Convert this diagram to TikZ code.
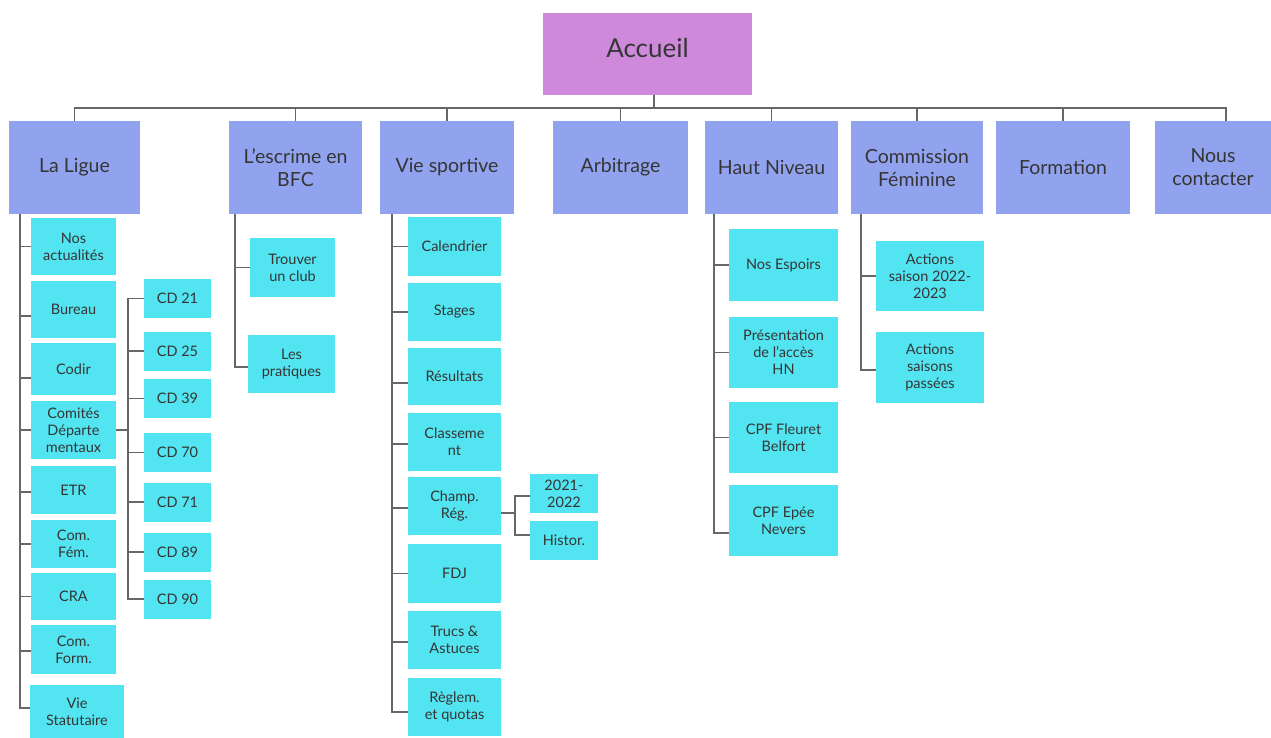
\documentclass[tikz,border=0pt]{standalone}
\usepackage{fontspec}
\setmainfont{Lato}
\definecolor{accc}{HTML}{CE89DB}
\definecolor{lvonec}{HTML}{91A3EE}
\definecolor{lvtwoc}{HTML}{52E4F0}
\definecolor{txt}{HTML}{353535}
\definecolor{linec}{HTML}{676767}
\tikzset{
 conn/.style={draw=linec, line width=1.5pt},
 topbox/.style={fill=accc, text=txt, font=\fontsize{26}{30}\selectfont, inner sep=0pt},
 lvone/.style={fill=lvonec, text=txt, align=center, font=\fontsize{19.5}{23}\selectfont, inner sep=0pt},
 lvtwo/.style={fill=lvtwoc, text=txt, align=center, font=\fontsize{14.5}{17}\selectfont, inner sep=0pt},
}
\begin{document}
\begin{tikzpicture}[x=1pt,y=-1pt]
\useasboundingbox (0,0) rectangle (1271,738);
% top
\node[topbox, minimum width=209pt, minimum height=82pt] (acc) at (647.5,54) {\raisebox{12pt}{Accueil}};
% level 1
\node[lvone, minimum width=131pt, minimum height=93pt] (ligue) at (74.5,167.5) {La Ligue};
\node[lvone, minimum width=133pt, minimum height=93pt] (bfc) at (295.5,167.5) {L’escrime en\\BFC};
\node[lvone, minimum width=134pt, minimum height=93pt] (vie) at (447,167.5) {Vie sportive};
\node[lvone, minimum width=135pt, minimum height=93pt] (arb) at (620.5,167.5) {Arbitrage};
\node[lvone, minimum width=133pt, minimum height=93pt] (hn) at (771.5,167.5) {Haut Niveau};
\node[lvone, minimum width=132pt, minimum height=93pt] (cf) at (917,167.5) {Commission\\Féminine};
\node[lvone, minimum width=134pt, minimum height=93pt] (form) at (1063,167.5) {Formation};
\node[lvone, minimum width=116pt, minimum height=93pt] (nous) at (1213,167.5) {Nous\\contacter};
\foreach \n in {ligue,bfc,vie,arb,hn,cf,form}
  \draw[conn] ([xshift=6.5pt]acc.south) -- ++(0,13) -| (\n.north);
\draw[conn] ([xshift=6.5pt]acc.south) -- ++(0,13) -| ([xshift=13pt]nous.north);
% La Ligue children
\node[lvtwo, minimum width=85pt, minimum height=57pt] (nosact) at (73.5,246.5) {Nos\\actualités};
\node[lvtwo, minimum width=85pt, minimum height=57pt] (bureau) at (73.5,309.5) {Bureau};
\node[lvtwo, minimum width=85pt, minimum height=52pt] (codir) at (73.5,369) {Codir};
\node[lvtwo, minimum width=85pt, minimum height=58pt] (comites) at (73.5,430) {Comités\\Départe\\mentaux};
\node[lvtwo, minimum width=85pt, minimum height=48pt] (etr) at (73.5,490) {ETR};
\node[lvtwo, minimum width=85pt, minimum height=48pt] (comfem) at (73.5,544) {Com.\\Fém.};
\node[lvtwo, minimum width=85pt, minimum height=47pt] (cra) at (73.5,596.5) {CRA};
\node[lvtwo, minimum width=85pt, minimum height=49pt] (comform) at (73.5,649.5) {Com.\\Form.};
\node[lvtwo, minimum width=94pt, minimum height=53pt] (viestat) at (77,711.5) {Vie\\Statutaire};
\draw[conn] ([xshift=11pt]ligue.south west) |- (nosact.west);
\draw[conn] ([xshift=11pt]ligue.south west) |- ([yshift=-6.5pt]bureau.west);
\draw[conn] ([xshift=11pt]ligue.south west) |- ([yshift=-9pt]codir.west);
\draw[conn] ([xshift=11pt]ligue.south west) |- (comites.west);
\draw[conn] ([xshift=11pt]ligue.south west) |- ([yshift=-2pt]etr.west);
\draw[conn] ([xshift=11pt]ligue.south west) |- (comfem.west);
\draw[conn] ([xshift=11pt]ligue.south west) |- (cra.west);
\draw[conn] ([xshift=11pt]ligue.south west) |- ([yshift=-1.5pt]comform.west);
\draw[conn] ([xshift=11pt]ligue.south west) |- ([yshift=3.5pt]viestat.west);
% CD
\node[lvtwo, minimum width=67pt, minimum height=39pt] (cdA) at (177.5,298.5) {CD 21};
\node[lvtwo, minimum width=67pt, minimum height=39pt] (cdB) at (177.5,351) {CD 25};
\node[lvtwo, minimum width=67pt, minimum height=39pt] (cdC) at (177.5,398.5) {CD 39};
\node[lvtwo, minimum width=67pt, minimum height=39pt] (cdD) at (177.5,452.5) {CD 70};
\node[lvtwo, minimum width=67pt, minimum height=39pt] (cdE) at (177.5,502) {CD 71};
\node[lvtwo, minimum width=67pt, minimum height=39pt] (cdF) at (177.5,552) {CD 89};
\node[lvtwo, minimum width=67pt, minimum height=39pt] (cdG) at (177.5,599) {CD 90};
\foreach \n in {cdA,cdB,cdC,cdD,cdE,cdF,cdG}
  \draw[conn] (comites.east) -- ++(12,0) |- (\n.west);
% BFC
\node[lvtwo, minimum width=85pt, minimum height=59pt] (trouver) at (292.5,267.5) {Trouver\\un club};
\node[lvtwo, minimum width=87pt, minimum height=58pt] (prat) at (291.5,364) {Les\\pratiques};
\draw[conn] ([xshift=6pt]bfc.south west) |- (trouver.west);
\draw[conn] ([xshift=6pt]bfc.south west) |- ([yshift=-3pt]prat.west);
% Vie sportive
\node[lvtwo, minimum width=93pt, minimum height=59pt] (cal) at (454.5,246.5) {Calendrier};
\node[lvtwo, minimum width=93pt, minimum height=58pt] (stages) at (454.5,312) {Stages};
\node[lvtwo, minimum width=93pt, minimum height=57pt] (res) at (454.5,376.5) {Résultats};
\node[lvtwo, minimum width=93pt, minimum height=58pt] (classt) at (454.5,442) {Classeme\\nt};
\node[lvtwo, minimum width=93pt, minimum height=58pt] (champ) at (454.5,506) {Champ.\\Rég.};
\node[lvtwo, minimum width=93pt, minimum height=59pt] (fdj) at (454.5,573.5) {FDJ};
\node[lvtwo, minimum width=93pt, minimum height=58pt] (trucs) at (454.5,640) {Trucs \&\\Astuces};
\node[lvtwo, minimum width=93pt, minimum height=58pt] (reglem) at (454.5,707) {Règlem.\\et quotas};
\draw[conn] ([xshift=12pt]vie.south west) |- (cal.west);
\draw[conn] ([xshift=12pt]vie.south west) |- (stages.west);
\draw[conn] ([xshift=12pt]vie.south west) |- ([yshift=-6.5pt]res.west);
\draw[conn] ([xshift=12pt]vie.south west) |- ([yshift=-2pt]classt.west);
\draw[conn] ([xshift=12pt]vie.south west) |- ([yshift=-2pt]champ.west);
\draw[conn] ([xshift=12pt]vie.south west) |- (fdj.west);
\draw[conn] ([xshift=12pt]vie.south west) |- ([yshift=-2pt]trucs.west);
\draw[conn] ([xshift=12pt]vie.south west) |- ([yshift=-5pt]reglem.west);
\node[lvtwo, minimum width=68pt, minimum height=39pt] (ya) at (564,493.5) {2021-\\2022};
\node[lvtwo, minimum width=68pt, minimum height=39pt] (histor) at (564,540.5) {Histor.};
\draw[conn] ([yshift=-7pt]champ.east) -- ++(14,0) |- ([yshift=-2.5pt]ya.west);
\draw[conn] ([yshift=-7pt]champ.east) -- ++(14,0) |- ([yshift=5.5pt]histor.west);
% Haut Niveau
\node[lvtwo, minimum width=109pt, minimum height=72pt] (espoirs) at (783.5,265) {Nos Espoirs};
\node[lvtwo, minimum width=109pt, minimum height=71pt] (pres) at (783.5,352.5) {Présentation\\de l’accès\\HN};
\node[lvtwo, minimum width=109pt, minimum height=71pt] (fleuret) at (783.5,437.5) {CPF Fleuret\\Belfort};
\node[lvtwo, minimum width=109pt, minimum height=71pt] (epee) at (783.5,520.5) {CPF Epée\\Nevers};
\draw[conn] ([xshift=9pt]hn.south west) |- (espoirs.west);
\draw[conn] ([xshift=9pt]hn.south west) |- (pres.west);
\draw[conn] ([xshift=9pt]hn.south west) |- (fleuret.west);
\draw[conn] ([xshift=9pt]hn.south west) |- ([yshift=-12.5pt]epee.west);
% Commission Feminine
\node[lvtwo, minimum width=108pt, minimum height=70pt] (actA) at (930,276) {Actions\\saison 2022-\\2023};
\node[lvtwo, minimum width=108pt, minimum height=71pt] (actB) at (930,367.5) {Actions\\saisons\\passées};
\draw[conn] ([xshift=10pt]cf.south west) |- (actA.west);
\draw[conn] ([xshift=10pt]cf.south west) |- ([yshift=-2.5pt]actB.west);
\end{tikzpicture}
\end{document}
